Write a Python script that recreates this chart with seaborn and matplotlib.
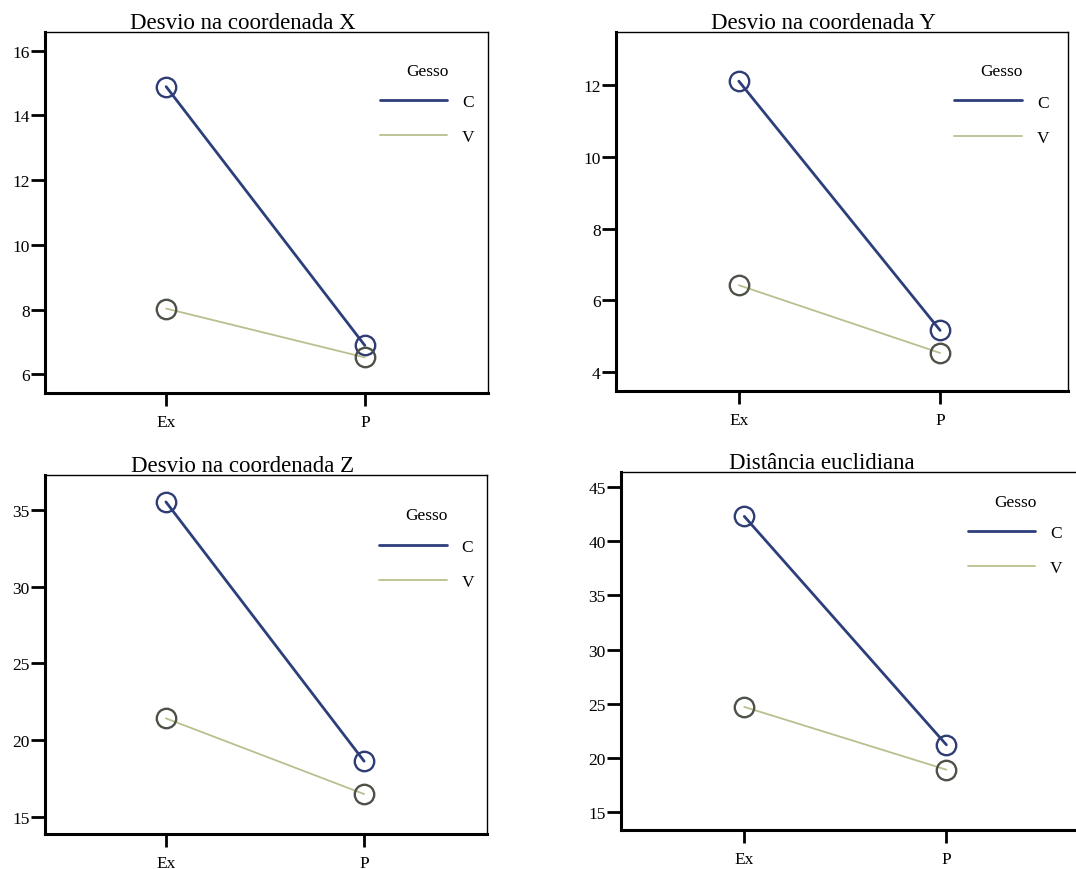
import matplotlib
matplotlib.use("Agg")
import matplotlib.pyplot as plt
from matplotlib.lines import Line2D
import pandas
import seaborn

# data
CATEGORIES = ["Ex", "P"]
GROUPS = ["C", "V"]

TITLES = [
    "Desvio na coordenada X",
    "Desvio na coordenada Y",
    "Desvio na coordenada Z",
    "Distância euclidiana",
]

DESVIO_X_C = [14.89, 6.89]
DESVIO_X_V = [8.03, 6.52]
DESVIO_Y_C = [12.11, 5.16]
DESVIO_Y_V = [6.42, 4.53]
DESVIO_Z_C = [35.52, 18.64]
DESVIO_Z_V = [21.43, 16.50]
EUCLID_C = [42.30, 21.20]
EUCLID_V = [24.70, 18.90]

YTICKS = [
    [6, 8, 10, 12, 14, 16],
    [4, 6, 8, 10, 12],
    [15, 20, 25, 30, 35],
    [15, 20, 25, 30, 35, 40, 45],
]
YLIMS = [(5.42, 16.58), (3.47, 13.48), (13.9, 37.27), (13.33, 46.4)]

PALETTE = {"C": "#2d3f7b", "V": "#b7c08e"}
EDGE = {"C": "#2f3d74", "V": "#4d5249"}
LINE_W = {"C": 2.0, "V": 1.3}

W, H = 1076, 870
# (left, right, top, bottom) in pixels, xlim right, title x position
PANELS = [
    (45, 488, 33, 394, 1.62, 0.447),
    (616, 1068, 33, 392, 1.635, 0.458),
    (45, 487, 476, 835, 1.62, 0.448),
    (621, 1100, 473, 831, 1.76, 0.42),
]
LEGEND_ANCHOR = [(0.72, 0.958), (0.714, 0.956), (0.72, 0.953), (0.691, 0.983)]


def build_df(c_vals, v_vals):
    df = pandas.DataFrame({"Grupo": [], "Gesso": [], "valor": []})
    for gesso, vals in zip(GROUPS, [c_vals, v_vals]):
        for cat, val in zip(CATEGORIES, vals):
            df.loc[len(df)] = [cat, gesso, val]
    return df


def draw_panel(fig, idx, df):
    left, right, top, bottom, xright, title_x = PANELS[idx]
    ax = fig.add_axes([left / W, (H - bottom) / H, (right - left) / W, (bottom - top) / H])

    seaborn.lineplot(data=df, x="Grupo", y="valor", hue="Gesso", hue_order=GROUPS,
                     palette=PALETTE, marker="o", markersize=14,
                     markerfacecolor="none", markeredgewidth=1.7, ax=ax)
    for line, g in zip(ax.lines, GROUPS):
        line.set_markeredgecolor(EDGE[g])
        line.set_linewidth(LINE_W[g])

    ax.set_xlim(-0.61, xright)
    ax.set_ylim(*YLIMS[idx])
    ax.set_yticks(YTICKS[idx])
    ax.set_xlabel("")
    ax.set_ylabel("")
    ax.set_title(TITLES[idx], x=title_x, fontsize=16.5, pad=3)

    for side in ["left", "bottom"]:
        ax.spines[side].set_linewidth(2.2)
    for side in ["top", "right"]:
        ax.spines[side].set_linewidth(1.0)
    ax.tick_params(axis="y", left=True, direction="out", length=10, width=2.0,
                   labelsize=12.5, pad=1)
    ax.tick_params(axis="x", bottom=True, direction="out", length=9, width=2.0,
                   labelsize=12.5, pad=6)
    ax.grid(False)

    ax.get_legend().remove()
    handles = [Line2D([], [], color=PALETTE[g], lw=LINE_W[g]) for g in GROUPS]
    leg = ax.legend(handles, GROUPS, title="Gesso", loc="upper left",
                    bbox_to_anchor=LEGEND_ANCHOR[idx], frameon=False,
                    fontsize=12.5, title_fontsize=12.5, handlelength=3.9,
                    handletextpad=0.85, labelspacing=1.1)
    leg._legend_box.align = "center"
    # a bit less room between the title and the first entry
    leg._legend_box.sep = 1.1 * 12.5 - 3
    return ax


def draw_graph():
    seaborn.set_style("white")
    plt.rcParams["font.family"] = ["Liberation Serif", "DejaVu Serif"]
    for key in ["text.color", "axes.labelcolor", "xtick.color", "ytick.color", "axes.edgecolor"]:
        plt.rcParams[key] = "black"
    fig = plt.figure(figsize=(W / 100, H / 100), dpi=100)

    series = [
        (DESVIO_X_C, DESVIO_X_V),
        (DESVIO_Y_C, DESVIO_Y_V),
        (DESVIO_Z_C, DESVIO_Z_V),
        (EUCLID_C, EUCLID_V),
    ]
    for idx, (c_vals, v_vals) in enumerate(series):
        draw_panel(fig, idx, build_df(c_vals, v_vals))

    fig.savefig("out.png", dpi=100)


draw_graph()
